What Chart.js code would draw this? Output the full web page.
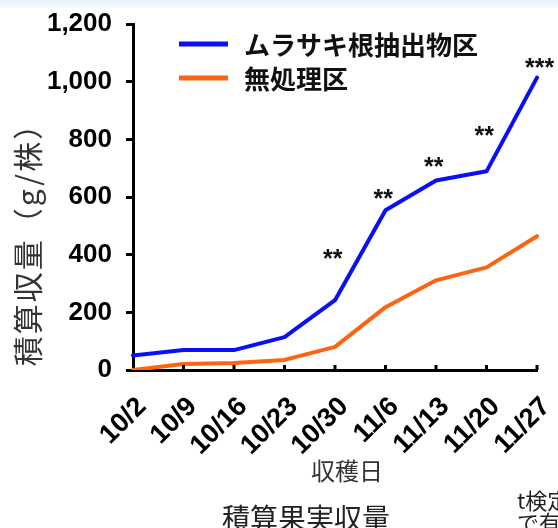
<!DOCTYPE html>
<html lang="ja">
<head>
<meta charset="utf-8">
<title>積算果実収量</title>
<script src="https://cdn.jsdelivr.net/npm/chart.js@4.4.1/dist/chart.umd.min.js"></script>
<style>
  html, body { margin: 0; padding: 0; background: #fff; }
  body { width: 558px; height: 528px; overflow: hidden; position: relative; }
  .band { position: absolute; left: 0; top: 0; width: 558px; height: 8px; background: linear-gradient(#e9f0f8, #f7f9fc); }
  #wrap { position: absolute; left: 0; top: 0; width: 558px; height: 528px; }
  .cap { position: absolute; font-family: 'Noto Sans CJK JP', sans-serif; color: #222; white-space: nowrap; line-height: 1; }
</style>
</head>
<body>
<div class="band"></div>
<div id="wrap"><canvas id="chart"></canvas></div>
<div class="cap" style="left:222px; top:503px; font-size:28px;">積算果実収量</div>
<div class="cap" style="left:517px; top:488px; font-size:22px;">t検定</div>
<div class="cap" style="left:517px; top:510px; font-size:22px;">で有</div>
<script>
// harvest dates (x categories)
const dates = ['10/2', '10/9', '10/16', '10/23', '10/30', '11/6', '11/13', '11/20', '11/27'];
// cumulative yield, g per plant
const murasaki = [50, 69, 69, 114, 242, 554, 657, 689, 1014];
const control = [0, 21, 24, 35, 80, 218, 311, 356, 464];
const seriesNames = ['ムラサキ根抽出物区', '無処理区'];
const yTicks = [0, 200, 400, 600, 800, 1000, 1200];
// t-test marks and the height (in g) where each sits
const sigMarks = ['', '', '', '', '**', '**', '**', '**', '***'];
const sigHeights = [null, null, null, null, 398, 606, 716, 824, 1060];

const BLUE = '#0a10f5';
const ORANGE = '#fb6410';
const NUM_FONT = "'Liberation Sans', Arial, sans-serif";
const JP_FONT = "'Noto Sans CJK JP', sans-serif";

const extras = {
  id: 'extras',
  afterDraw(chart) {
    const { ctx, scales: { x, y }, chartArea } = chart;
    ctx.save();

    // x ticks point inward (up)
    ctx.strokeStyle = '#000';
    ctx.lineWidth = 3;
    dates.forEach((d, i) => {
      if (i === 0) return;
      const px = x.getPixelForValue(i);
      ctx.beginPath();
      ctx.moveTo(px, chartArea.bottom);
      ctx.lineTo(px, chartArea.bottom - 5);
      ctx.stroke();
    });

    // significance marks
    ctx.fillStyle = '#111';
    ctx.font = `bold 25px ${NUM_FONT}`;
    ctx.textAlign = 'left';
    ctx.textBaseline = 'middle';
    sigMarks.forEach((m, i) => {
      if (!m) return;
      ctx.fillText(m, x.getPixelForValue(i) - 12, y.getPixelForValue(sigHeights[i]) + 5);
    });

    // legend
    const colors = [BLUE, ORANGE];
    ctx.font = `bold 26px ${JP_FONT}`;
    seriesNames.forEach((name, i) => {
      const ly = 44 + i * 34;
      ctx.strokeStyle = colors[i];
      ctx.lineWidth = 5;
      ctx.beginPath();
      ctx.moveTo(179, ly);
      ctx.lineTo(228, ly);
      ctx.stroke();
      ctx.fillStyle = '#111';
      ctx.fillText(name, 244, ly + 1);
    });

    // axis titles
    ctx.fillStyle = '#333';
    ctx.font = `30px ${JP_FONT}`;
    ctx.textAlign = 'center';
    ctx.save();
    ctx.letterSpacing = '2px';
    ctx.translate(28, 237);
    ctx.rotate(-Math.PI / 2);
    ctx.fillText('積算収量（g/株）', 0, 0);
    ctx.restore();
    ctx.font = `24px ${JP_FONT}`;
    ctx.fillText('収穫日', 347, 471);

    ctx.restore();
  }
};

new Chart(document.getElementById('chart'), {
  type: 'line',
  data: {
    labels: dates,
    datasets: [
      { label: seriesNames[0], data: murasaki, borderColor: BLUE, borderWidth: 4 },
      { label: seriesNames[1], data: control, borderColor: ORANGE, borderWidth: 4 }
    ]
  },
  options: {
    responsive: true,
    maintainAspectRatio: false,
    animation: false,
    layout: { padding: { top: 24, right: 21, left: 0, bottom: 0 } },
    elements: { point: { radius: 0 }, line: { tension: 0, borderCapStyle: 'round', borderJoinStyle: 'round' } },
    plugins: { legend: { display: false }, tooltip: { enabled: false } },
    scales: {
      x: {
        offset: false,
        afterFit: s => { s.height = 158; s.paddingLeft = 0; s.paddingRight = 0; },
        grid: { display: false },
        border: { display: true, color: '#000', width: 3 },
        ticks: {
          color: '#000',
          font: { family: NUM_FONT, size: 27, weight: 'bold' },
          minRotation: 45,
          maxRotation: 45,
          autoSkip: false,
          padding: 13,
          labelOffset: 9
        }
      },
      y: {
        min: 0,
        max: 1200,
        afterFit: s => { s.width = 133; s.paddingTop = 0; s.paddingBottom = 0; },
        afterBuildTicks: s => { s.ticks = yTicks.map(v => ({ value: v })); },
        grid: { drawOnChartArea: false, drawTicks: true, tickLength: 7, color: '#000', lineWidth: 3 },
        border: { display: true, color: '#000', width: 3 },
        ticks: {
          color: '#000',
          padding: 14,
          font: { family: NUM_FONT, size: 26, weight: 'bold' },
          callback: v => v.toLocaleString('en-US')
        }
      }
    }
  },
  plugins: [extras]
});
</script>
</body>
</html>
